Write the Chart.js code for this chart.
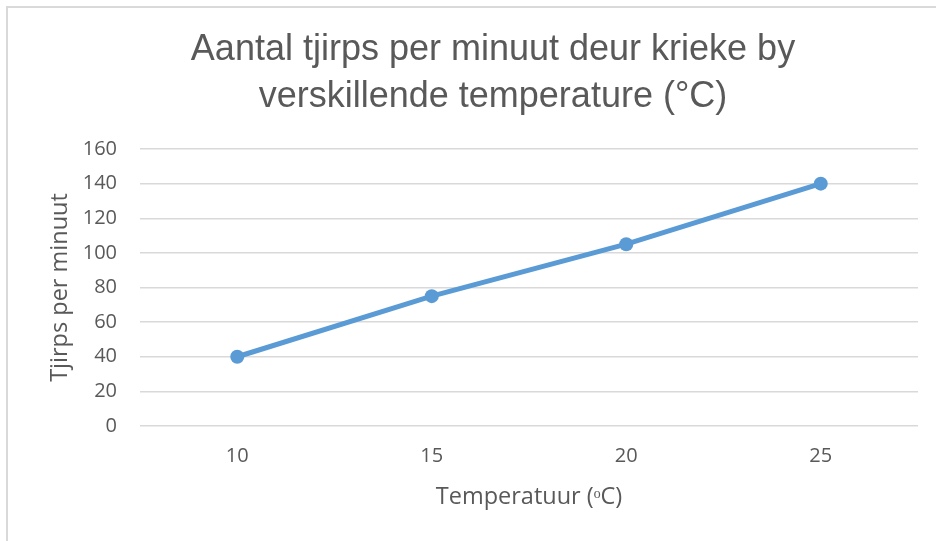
<!DOCTYPE html>
<html>
<head>
<meta charset="utf-8">
<script src="https://cdn.jsdelivr.net/npm/chart.js@4"></script>
<style>
  html, body { margin: 0; padding: 0; background: #ffffff; }
  #frame { position: absolute; left: 6px; top: 6px; width: 940px; height: 545px;
           border-left: 2px solid #d9d9d9; border-top: 2px solid #d9d9d9; box-sizing: border-box; }
  #wrap { position: absolute; left: 0; top: 0; width: 936px; height: 541px; }
</style>
</head>
<body>
<div id="frame"></div>
<div id="wrap"><canvas id="c" width="936" height="541"></canvas></div>
<script>
const categories = ["10", "15", "20", "25"];
const chirps = [40, 75, 105, 140];
const yTicks = [0, 20, 40, 60, 80, 100, 120, 140, 160];
const titleLines = ["Aantal tjirps per minuut deur krieke by", "verskillende temperature (°C)"];
const xTitle = "Temperatuur (\u1D52C)";
const yTitle = "Tjirps per minuut";

const grey = "#595959";
new Chart(document.getElementById("c"), {
  type: "line",
  data: {
    labels: categories,
    datasets: [{
      data: chirps,
      borderColor: "#5B9BD5",
      backgroundColor: "#5B9BD5",
      borderWidth: 5,
      pointRadius: 7,
      pointHoverRadius: 7,
      pointBorderWidth: 0,
      tension: 0,
      fill: false
    }]
  },
  options: {
    responsive: false,
    animation: false,
    events: [],
    layout: { padding: { left: 68, right: 18, top: 0, bottom: 0 } },
    plugins: {
      legend: { display: false },
      tooltip: { enabled: false },
      title: {
        display: true,
        text: titleLines,
        color: grey,
        font: { family: "'Liberation Sans', Arial, sans-serif", size: 36, weight: "normal", lineHeight: 47/36 },
        padding: { top: 26.5, bottom: 28.5 }
      }
    },
    scales: {
      x: {
        offset: true,
        grid: { display: false, drawTicks: false },
        border: { display: false },
        ticks: { color: grey, font: { family: "'Open Sans'", size: 20 }, padding: 18 },
        title: { display: true, text: xTitle, color: grey, font: { family: "'Open Sans'", size: 23.5 }, padding: { top: 0, bottom: 30 } },
        afterFit: s => { s.height = 115; }
      },
      y: {
        min: 0, max: 160,
        afterBuildTicks: s => { s.ticks = yTicks.map(v => ({ value: v })); },
        grid: { color: "#d9d9d9", lineWidth: 1.5, drawTicks: false },
        border: { display: false },
        ticks: { color: grey, font: { family: "'Open Sans'", size: 20 }, padding: 23 },
        title: { display: true, text: yTitle, color: grey, font: { family: "'Open Sans'", size: 23.5 }, padding: { top: -22, bottom: 0 } },
        afterFit: s => { s.width = 72; }
      }
    }
  }
});
</script>
</body>
</html>
